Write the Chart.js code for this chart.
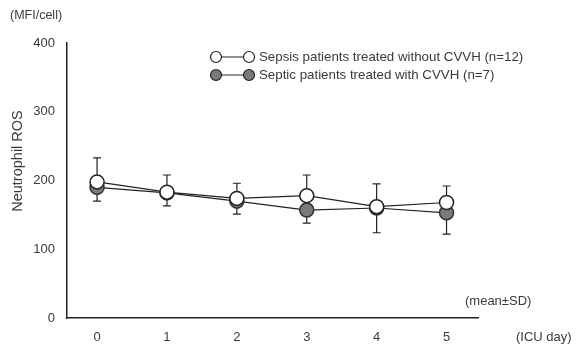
<!DOCTYPE html>
<html>
<head>
<meta charset="utf-8">
<script src="https://cdn.jsdelivr.net/npm/chart.js@4"></script>
<style>
  html, body { margin: 0; padding: 0; background: #fff; }
  #wrap { width: 584px; height: 351px; position: relative; }
</style>
</head>
<body>
<div id="wrap"><canvas id="rosChart"></canvas></div>
<script>
var days = [0, 1, 2, 3, 4, 5];
var yTicks = [0, 100, 200, 300, 400];
var withoutMean = [198, 183, 174, 178, 162, 168];
var withoutSD = [35, 25, 22, 30, 33, 24];
var withMean = [190, 182, 170, 157, 160, 153];
var withSD = [20, 19, 19, 19, 36, 31];
var seriesNames = ['Sepsis patients treated without CVVH (n=12)', 'Septic patients treated with CVVH (n=7)'];

var FONT = '"Liberation Sans", Arial, sans-serif';
var TXT = '#3a3a3a';

function pts(means) {
  return days.map(function (d, i) { return { x: d, y: means[i] }; });
}

// error bars: open series upward, filled series downward
var errorBars = {
  id: 'errorBars',
  beforeDatasetsDraw: function (chart) {
    var ctx = chart.ctx, xs = chart.scales.x, ys = chart.scales.y;
    ctx.save();
    ctx.strokeStyle = '#222';
    ctx.lineWidth = 1.2;
    days.forEach(function (d, i) {
      var px = xs.getPixelForValue(d);
      var bars = [[withoutMean[i], withoutMean[i] + withoutSD[i]], [withMean[i], withMean[i] - withSD[i]]];
      bars.forEach(function (b) {
        var y0 = ys.getPixelForValue(b[0]), y1 = ys.getPixelForValue(b[1]);
        ctx.beginPath();
        ctx.moveTo(px, y0); ctx.lineTo(px, y1);
        ctx.moveTo(px - 4, y1); ctx.lineTo(px + 4, y1);
        ctx.stroke();
      });
    });
    ctx.restore();
  }
};

var extraText = {
  id: 'extraText',
  afterDraw: function (chart) {
    var ctx = chart.ctx;
    ctx.save();
    ctx.fillStyle = TXT;
    ctx.font = '12.5px ' + FONT;
    ctx.textBaseline = 'middle';
    ctx.textAlign = 'left';
    ctx.fillText('(MFI/cell)', 10, 16);
    ctx.font = '13px ' + FONT;
    ctx.fillText('(mean\u00b1SD)', 465, 301);
    ctx.fillText('(ICU day)', 516, 337);
    ctx.save();
    ctx.translate(18, 161);
    ctx.rotate(-Math.PI / 2);
    ctx.textAlign = 'center';
    ctx.font = '14.5px ' + FONT;
    ctx.fillText('Neutrophil ROS', 0, 0);
    ctx.restore();

    // legend
    var rows = [
      { y: 57, fill: '#fff', name: seriesNames[0] },
      { y: 75, fill: '#7a7a7a', name: seriesNames[1] }
    ];
    rows.forEach(function (r) {
      ctx.strokeStyle = '#222';
      ctx.lineWidth = 1.2;
      ctx.beginPath();
      ctx.moveTo(216, r.y); ctx.lineTo(249, r.y);
      ctx.stroke();
      [216, 249].forEach(function (cx) {
        ctx.beginPath();
        ctx.arc(cx, r.y, 5.5, 0, Math.PI * 2);
        ctx.fillStyle = r.fill;
        ctx.fill();
        ctx.stroke();
      });
      ctx.fillStyle = TXT;
      ctx.font = '13.3px ' + FONT;
      ctx.textAlign = 'left';
      ctx.fillText(r.name, 259, r.y);
    });
    ctx.restore();
  }
};

new Chart(document.getElementById('rosChart'), {
  type: 'line',
  data: {
    datasets: [
      {
        label: seriesNames[0],
        data: pts(withoutMean),
        borderColor: '#222',
        borderWidth: 1.2,
        backgroundColor: '#fff',
        pointBackgroundColor: '#fff',
        pointBorderColor: '#222',
        pointBorderWidth: 1.5,
        pointRadius: 7,
        tension: 0
      },
      {
        label: seriesNames[1],
        data: pts(withMean),
        borderColor: '#222',
        borderWidth: 1.2,
        backgroundColor: '#7a7a7a',
        pointBackgroundColor: '#7a7a7a',
        pointBorderColor: '#333',
        pointBorderWidth: 1.5,
        pointRadius: 7,
        tension: 0
      }
    ]
  },
  options: {
    responsive: true,
    maintainAspectRatio: false,
    animation: false,
    layout: { padding: { top: 43, right: 106, left: 0, bottom: 0 } },
    plugins: { legend: { display: false }, tooltip: { enabled: false } },
    scales: {
      x: {
        type: 'linear',
        min: -0.43,
        max: 5.45,
        afterBuildTicks: function (scale) {
          scale.ticks = days.map(function (d) { return { value: d }; });
        },
        afterFit: function (scale) { scale.height = 33; },
        grid: { display: false, drawTicks: true, tickLength: 4, color: '#222' },
        border: { display: true, color: '#222', width: 1.5 },
        ticks: { color: TXT, font: { family: FONT, size: 13 }, padding: 8, maxRotation: 0 }
      },
      y: {
        min: 0,
        max: 400,
        afterBuildTicks: function (scale) {
          scale.ticks = yTicks.map(function (v) { return { value: v }; });
        },
        afterFit: function (scale) { scale.width = 67; },
        grid: { display: false, drawTicks: true, tickLength: 6, color: '#222' },
        border: { display: true, color: '#222', width: 1.5 },
        ticks: { color: TXT, font: { family: FONT, size: 13 }, padding: 6 }
      }
    }
  },
  plugins: [errorBars, extraText]
});
</script>
</body>
</html>
